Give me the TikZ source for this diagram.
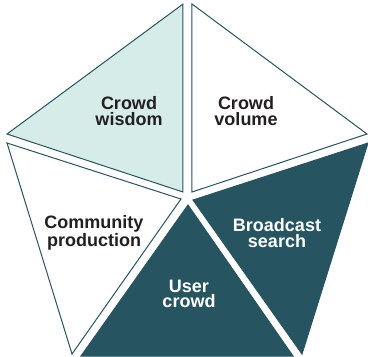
\documentclass[tikz,border=0pt]{standalone}
\usepackage{fontspec}
\setmainfont{Liberation Sans}
\definecolor{teal}{HTML}{265460}
\definecolor{lightteal}{HTML}{D6ECE9}
\definecolor{txt}{HTML}{231F20}
\begin{document}
\begin{tikzpicture}[x=1pt,y=-1pt,
  tri/.style={draw=teal,line width=1pt,line join=miter},
  lbl/.style={align=center,font=\fontsize{18}{15.5}\selectfont\bfseries,inner sep=0pt}]
\useasboundingbox (0,0) rectangle (368,357);
% triangles
\draw[tri,fill=lightteal] (183,4) -- (7,134) -- (183,192) -- cycle;
\draw[tri,fill=white] (192,4) -- (367,134) -- (192,192) -- cycle;
\draw[tri,fill=white] (7,143) -- (72,354) -- (181,199) -- cycle;
\draw[tri,fill=teal] (193,200) -- (368,143) -- (302,354) -- cycle;
\draw[tri,fill=teal] (188,205) -- (81,356) -- (293,356) -- cycle;
% labels
\node[lbl,text=txt] (wisdom) at (129,111) {Crowd\\wisdom};
\node[lbl,text=txt] (volume) at (246,111) {Crowd\\volume};
\node[lbl,text=txt] (community) at (94,233) {Community\\production};
\node[lbl,text=white] (broadcast) at (277,233) {Broadcast\\search};
\node[lbl,text=white] (user) at (189,294) {User\\crowd};
\end{tikzpicture}
\end{document}
